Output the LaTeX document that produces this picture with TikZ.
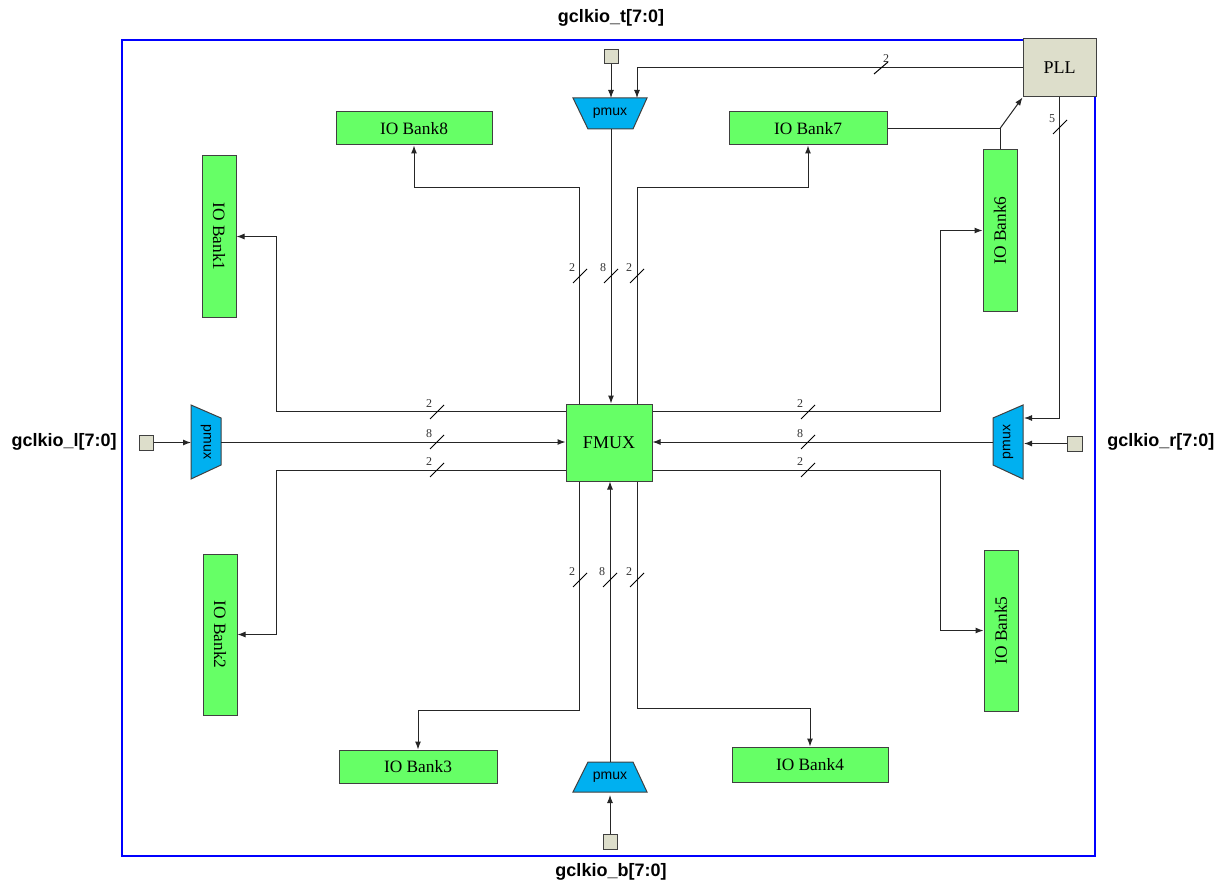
\documentclass[tikz,border=0pt]{standalone}
\usepackage{fontspec}
\setmainfont{Liberation Serif}
\setsansfont{Liberation Sans}
\usetikzlibrary{arrows.meta,fit,calc}
\definecolor{bankgreen}{HTML}{66FF66}
\definecolor{pmuxcyan}{HTML}{00B0F0}
\definecolor{pllgray}{HTML}{DDDECB}
\definecolor{bordblue}{HTML}{0000FF}
\newcommand\busmark[4]{\draw[line width=0.75pt] (#1-7,#2+7) -- (#1+7,#2-7); \node[buslbl] (#4) at (#1-8,#2-8) {#3};}
\begin{document}
\begin{tikzpicture}[x=0.75pt,y=-0.75pt,
  bank/.style={draw=black!75, line width=0.75pt, fill=bankgreen, inner sep=0pt},
  banktxt/.style={font=\fontsize{13}{15}\selectfont, inner sep=0pt},
  pllbox/.style={draw=black!75, line width=0.75pt, fill=pllgray, inner sep=0pt},
  insq/.style={draw=black!75, line width=0.75pt, fill=pllgray, inner sep=0pt},
  pmuxshape/.style={draw=black!75, line width=0.75pt, fill=pmuxcyan},
  pmuxtxt/.style={font=\sffamily\fontsize{10.5}{12}\selectfont, inner sep=0pt},
  title/.style={font=\sffamily\bfseries\fontsize{13.5}{15}\selectfont, inner sep=0pt},
  buslbl/.style={font=\fontsize{9}{10}\selectfont, text=black!80, inner sep=0pt},
  wire/.style={line width=0.75pt, draw=black!85},
  arr/.style={wire, -{Latex[length=6pt,width=4.5pt]}},
]
\useasboundingbox (0,0) rectangle (1215,881);
% outer border
\node[draw=bordblue, line width=1.5pt, inner sep=0pt, fit={(122,40)(1095,856)}] (frame) {};
% titles
\node[title] (tt) at (611,18) {gclkio\_t[7:0]};
\node[title] (tb) at (611,872) {gclkio\_b[7:0]};
\node[title, anchor=east] (tl) at (117,442) {gclkio\_l[7:0]};
\node[title, anchor=west] (tr) at (1107,442) {gclkio\_r[7:0]};
% banks
\node[bank, fit={(336,112)(492,145)}] (b8) {};
\node[banktxt] (t8) at (b8.center) {IO Bank8};
\node[bank, fit={(729,112)(887,145)}] (b7) {};
\node[banktxt] (t7) at (b7.center) {IO Bank7};
\node[bank, fit={(202,156)(236,317)}] (b1) {};
\node[banktxt, rotate=-90] (t1) at (b1.center) {IO Bank1};
\node[bank, fit={(983,150)(1017,311)}] (b6) {};
\node[banktxt, rotate=90] (t6) at (b6.center) {IO Bank6};
\node[bank, fit={(203,554)(237,715)}] (b2) {};
\node[banktxt, rotate=-90] (t2) at (b2.center) {IO Bank2};
\node[bank, fit={(984,550)(1018,711)}] (b5) {};
\node[banktxt, rotate=90] (t5) at (b5.center) {IO Bank5};
\node[bank, fit={(339,750)(497,783)}] (b3) {};
\node[banktxt] (t3) at (b3.center) {IO Bank3};
\node[bank, fit={(732,747)(888,782)}] (b4) {};
\node[banktxt] (t4) at (b4.center) {IO Bank4};
\node[bank, fit={(566,404)(652,481)}] (fmux) {};
\node[banktxt, font=\fontsize{13.5}{15}\selectfont] (tf) at (fmux.center) {FMUX};
\node[pllbox, fit={(1023,39)(1096,97)}] (pll) {};
\node[banktxt, font=\fontsize{13.5}{15}\selectfont] (tp) at (pll.center) {PLL};
% input squares
\node[insq, fit={(604,50)(618,64)}] (sqT) {};
\node[insq, fit={(139,435)(153,450)}] (sqL) {};
\node[insq, fit={(1067,436)(1082,451)}] (sqR) {};
\node[insq, fit={(603,834)(617,849)}] (sqB) {};
% pmux shapes
\draw[pmuxshape] (573,98) -- (647,98) -- (633,129) -- (588,129) -- cycle;
\node[pmuxtxt] (pmT) at (610,113) {pmux};
\draw[pmuxshape] (588,762) -- (633,762) -- (647,792) -- (573,792) -- cycle;
\node[pmuxtxt] (pmB) at (610,777) {pmux};
\draw[pmuxshape] (191,405) -- (221,418) -- (221,465) -- (191,479) -- cycle;
\node[pmuxtxt, rotate=-90] (pmL) at (206,442) {pmux};
\draw[pmuxshape] (1023,405) -- (993,418) -- (993,465) -- (1023,479) -- cycle;
\node[pmuxtxt, rotate=90] (pmR) at (1008,442) {pmux};
\coordinate (ptin1) at (611,98);
\coordinate (ptin2) at (637,98);
\coordinate (ptout) at (611,129);
\coordinate (pbin) at (610,795);
\coordinate (pbout) at (610,762);
\coordinate (plin) at (191,442);
\coordinate (plout) at (221,442);
\coordinate (prin1) at (1024,418);
\coordinate (prin2) at (1024,443);
\coordinate (prout) at (993,442);
% top connections
\draw[arr] (sqT.south) -- (sqT.south |- ptin1);
\draw[arr] (pll.west) -| (ptin2);
\draw[arr] (ptout) -- (ptout |- fmux.north);
\draw[arr] ($(fmux.north west)+(14,0)$) -- ++(0,-216) -| (b8.south);
\draw[arr] ($(fmux.north east)+(-15,0)$) -- ++(0,-216) -| (b7.south);
\draw[wire] (b7.east) -- (b6.north |- b7.east);
\draw[wire] (b6.north) -- (b6.north |- b7.east);
\draw[arr] (b6.north |- b7.east) -- (pll.south west);
% PLL to right pmux
\draw[arr] (pll.south) |- (prin1);
\draw[arr] (sqR.west) -- (sqR.west -| prin2);
% left
\draw[arr] (sqL.east) -- (sqL.east -| plin);
\draw[arr] ($(fmux.north west)+(0,8)$) -| ($(b1.east)+(40,0)$) -- (b1.east);
\draw[arr] (plout) -- (plout -| fmux.west);
\draw[arr] ($(fmux.south west)+(0,-11)$) -| ($(b2.east)+(39,0)$) -- (b2.east);
% right
\draw[arr] ($(fmux.north east)+(0,8)$) -| ($(b6.west)+(-42,0)$) -- (b6.west);
\draw[arr] (prout) -- (prout -| fmux.east);
\draw[arr] ($(fmux.south east)+(0,-11)$) -| ($(b5.west)+(-43,0)$) -- (b5.west);
% bottom
\draw[arr] ($(fmux.south west)+(14,0)$) -- ++(0,229) -| (b3.north);
\draw[arr] ($(fmux.south east)+(-15,0)$) -- ++(0,227) -| (b4.north);
\draw[arr] (pbout) -- (pbout |- fmux.south);
\draw[arr] (sqB.north) -- (sqB.north |- pbin);
% bus width marks
\busmark{580}{276}{2}{m1}
\busmark{611}{276}{8}{m2}
\busmark{637}{276}{2}{m3}
\busmark{580}{580}{2}{m4}
\busmark{610}{580}{8}{m5}
\busmark{637}{580}{2}{m6}
\busmark{437}{412}{2}{m7}
\busmark{437}{442}{8}{m8}
\busmark{437}{470}{2}{m9}
\busmark{808}{412}{2}{m10}
\busmark{808}{442}{8}{m11}
\busmark{808}{470}{2}{m12}
\busmark{1060}{127}{5}{m13}
\draw[line width=0.75pt] (874,74) -- (888,62);
\node[buslbl] (m14) at (886,59) {2};
\end{tikzpicture}
\end{document}
